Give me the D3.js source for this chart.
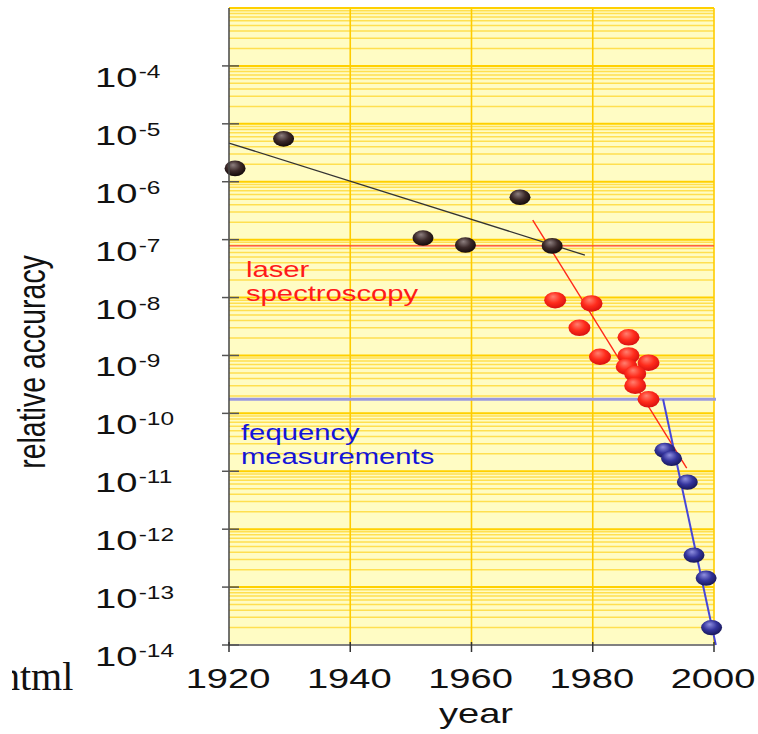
<!DOCTYPE html>
<html><head><meta charset="utf-8">
<script src="https://cdn.jsdelivr.net/npm/d3@7"></script>
<style>body{margin:0;background:#fff}svg{display:block}text{font-family:"Liberation Sans",Arial,sans-serif}</style>
</head><body>
<svg id="c" width="758" height="734"></svg>
<script>
// ---- data ----
const xTicks = [1920, 1940, 1960, 1980, 2000];
const yTickExps = [-4, -5, -6, -7, -8, -9, -10, -11, -12, -13, -14];
const earlyPoints = [[1921, 1.7e-6], [1929, 5.5e-6], [1952, 1.07e-7], [1959, 8.1e-8], [1968, 5.4e-7], [1973.3, 7.8e-8]];
const laserPoints = [[1973.8, 9.0e-9], [1979.8, 7.9e-9], [1977.8, 3.0e-9], [1985.9, 2.06e-9], [1981.2, 9.5e-10],
  [1985.9, 1.0e-9], [1989.2, 7.5e-10], [1985.6, 6.4e-10], [1987.0, 4.8e-10], [1987.0, 3.0e-10], [1989.2, 1.75e-10]];
const freqPoints = [[1991.9, 2.3e-11], [1993.0, 1.67e-11], [1995.6, 6.5e-12], [1996.7, 3.57e-13], [1998.7, 1.43e-13], [1999.6, 2.0e-14]];
const earlyTrend = [[1920, 4.66e-6], [1978.7, 5.4e-8]];
const laserTrend = [[1970.1, 2.18e-7], [1995.5, 1.13e-11]];
const freqTrend = [[1991.6, 1.75e-10], [2000.3, 1.0e-14]];
const laserLevel = 7.8e-8;
const freqLevel = 1.75e-10;
const labels = {y: "relative accuracy", x: "year", laser: ["laser", "spectroscopy"], freq: ["fequency", "measurements"]};

// ---- layout ----
const SX = 1.36;
const svg = d3.select("#c");
const x = d3.scaleLinear().domain([1920, 2000]).range([229, 714]);
const y = d3.scaleLog().domain([1e-14, 1e-3]).range([645, 8]);
const [x0, x1] = x.range(), [y0, y1] = y.range();

const defs = svg.append("defs");
function grad(id, c0, c1, c2) {
  const g = defs.append("radialGradient").attr("id", id).attr("cx", "45%").attr("cy", "40%").attr("r", "60%").attr("fx", "40%").attr("fy", "28%");
  g.append("stop").attr("offset", "0%").attr("stop-color", c0);
  g.append("stop").attr("offset", "55%").attr("stop-color", c1);
  g.append("stop").attr("offset", "100%").attr("stop-color", c2);
}
grad("gBlack", "#8e8080", "#3c2a2a", "#140a0a");
grad("gRed", "#ff8070", "#ff2c1c", "#d81010");
grad("gBlue", "#9090e0", "#34349c", "#18185a");
defs.append("clipPath").attr("id", "clipHtml").append("rect").attr("x", 12).attr("y", 600).attr("width", 200).attr("height", 134);

// background
svg.append("rect").attr("x", x0).attr("y", y1).attr("width", x1 - x0).attr("height", y0 - y1).attr("fill", "#fffcc4");

// horizontal log grid
const minor = [];
for (let e = -14; e < -3; e++) for (let m = 2; m <= 9; m++) minor.push(m * Math.pow(10, e));
svg.append("g").selectAll("line").data(minor).join("line")
  .attr("x1", x0).attr("x2", x1).attr("y1", d => y(d)).attr("y2", d => y(d))
  .attr("stroke", "#ffdf50").attr("stroke-width", 1.5);
const decades = d3.range(-14, -2).map(e => Math.pow(10, e));
svg.append("g").selectAll("line").data(decades).join("line")
  .attr("x1", x0).attr("x2", x1).attr("y1", d => y(d)).attr("y2", d => y(d))
  .attr("stroke", "#ffd000").attr("stroke-width", 2);
// vertical grid
svg.append("g").selectAll("line").data(xTicks.slice(1)).join("line")
  .attr("x1", d => x(d)).attr("x2", d => x(d)).attr("y1", y1).attr("y2", y0)
  .attr("stroke", "#ffcc00").attr("stroke-width", 1.6);

// level lines
svg.append("line").attr("x1", x0).attr("x2", x1).attr("y1", y(laserLevel)).attr("y2", y(laserLevel))
  .attr("stroke", "#ff3a3a").attr("stroke-width", 1.4);
svg.append("line").attr("x1", x0).attr("x2", x1 + 2).attr("y1", y(freqLevel)).attr("y2", y(freqLevel))
  .attr("stroke", "#9a9ae0").attr("stroke-width", 3);

// trend lines
const line = d3.line().x(d => x(d[0])).y(d => y(d[1]));
svg.append("path").attr("d", line(earlyTrend)).attr("fill", "none").attr("stroke", "#333").attr("stroke-width", 1.3);
svg.append("path").attr("d", line(laserTrend)).attr("fill", "none").attr("stroke", "#ff2a1a").attr("stroke-width", 1.4);
svg.append("path").attr("d", line(freqTrend)).attr("fill", "none").attr("stroke", "#4646d8").attr("stroke-width", 2);

// points
function pts(data, fill, rx, ry) {
  svg.append("g").selectAll("ellipse").data(data).join("ellipse")
    .attr("cx", d => x(d[0])).attr("cy", d => y(d[1])).attr("rx", rx).attr("ry", ry)
    .attr("fill", `url(#${fill})`);
}
pts(earlyPoints, "gBlack", 10.5, 7.8);
pts(laserPoints, "gRed", 11, 8.3);
pts(freqPoints, "gBlue", 10.5, 7.6);

// axes
svg.append("line").attr("x1", x0).attr("x2", x0).attr("y1", y1).attr("y2", y0).attr("stroke", "#444").attr("stroke-width", 1.5);
svg.append("line").attr("x1", x0).attr("x2", x1).attr("y1", y0).attr("y2", y0).attr("stroke", "#808080").attr("stroke-width", 2);
svg.append("g").selectAll("line").data(yTickExps).join("line")
  .attr("x1", x0 - 7).attr("x2", x0 + 10).attr("y1", d => y(Math.pow(10, d))).attr("y2", d => y(Math.pow(10, d)))
  .attr("stroke", "#555").attr("stroke-width", 1.5);
svg.append("g").selectAll("line").data(xTicks).join("line")
  .attr("x1", d => x(d)).attr("x2", d => x(d)).attr("y1", y0 - 3).attr("y2", y0 + 7)
  .attr("stroke", "#333").attr("stroke-width", 1.5);

// y tick labels
const yl = svg.append("g").selectAll("text").data(yTickExps).join("text")
  .attr("transform", d => `translate(95,${y(Math.pow(10, d)) + 21}) scale(${SX},1)`)
  .attr("font-size", 28).attr("fill", "#111");
yl.append("tspan").text("10");
yl.append("tspan").attr("dx", 1).attr("dy", -9).attr("font-size", 18).text(d => String(d));

// x tick labels
svg.append("g").selectAll("text").data(xTicks).join("text")
  .attr("transform", d => `translate(${x(d) - 1},688) scale(${SX},1)`)
  .attr("text-anchor", "middle").attr("font-size", 28).attr("fill", "#111").text(d => d);

// axis titles
svg.append("text").attr("transform", `translate(476,723) scale(${SX},1)`).attr("text-anchor", "middle")
  .attr("font-size", 28).attr("fill", "#111").text(labels.x);
svg.append("text").attr("transform", `translate(45,362) scale(${SX},1) rotate(-90)`).attr("text-anchor", "middle")
  .attr("font-size", 28.5).attr("fill", "#111").text(labels.y);

// annotations
function ann(lines, x0, yb, fill) {
  lines.forEach((t, i) => svg.append("text").attr("transform", `translate(${x0},${yb + i * 24}) scale(${SX},1)`)
    .attr("font-size", 21.5).attr("fill", fill).text(t));
}
ann(labels.laser, 246, 277, "#ff1a1a");
ann(labels.freq, 241, 440, "#1414d8");

// stray "html" text
svg.append("text").attr("x", 0).attr("y", 690).attr("clip-path", "url(#clipHtml)")
  .style("font-family", "'Liberation Serif', 'Times New Roman', serif").attr("font-size", 40).attr("fill", "#111").text("html");
</script>
</body></html>
